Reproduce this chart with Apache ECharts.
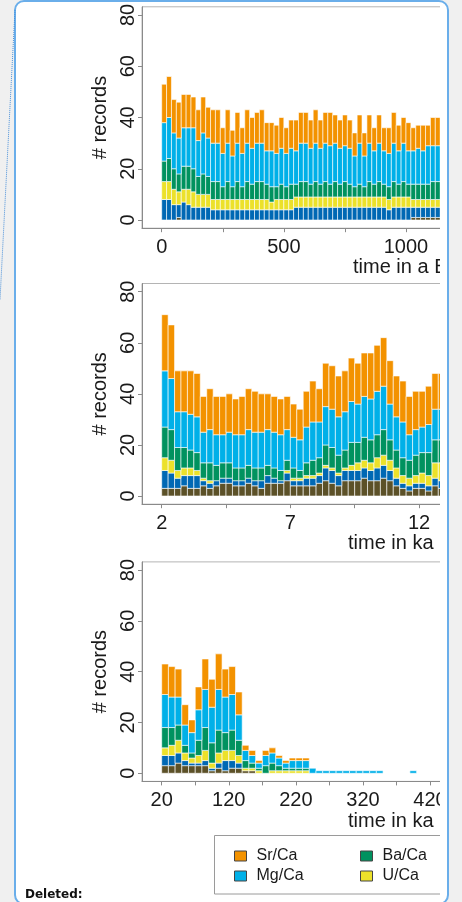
<!DOCTYPE html>
<html><head><meta charset="utf-8">
<script src="https://cdn.jsdelivr.net/npm/echarts@6/dist/echarts.min.js"></script>
<style>
html,body{margin:0;padding:0;background:#f0f0f0;width:462px;height:902px;overflow:hidden}
#box{position:absolute;left:14px;top:0px;width:431px;height:901px;border:2px solid #6aaeea;border-radius:10px;background:#fff}
#clip{position:absolute;left:0;top:0;width:440px;height:902px;overflow:hidden}
#chart{width:520px;height:902px}
</style></head>
<body>
<div id="box"></div>
<div id="clip"><div id="chart"></div></div>
<script>
// ---------- data ----------
const seriesNames = ['B/Ca','Li/Ca','U/Ca','Ba/Ca','Mg/Ca','Sr/Ca']; // stack order, bottom -> top
const seriesColors = ['#5c5128','#0068b4','#ece12a','#00925f','#00b0e8','#f39200'];

// Panel 1: time in a BP, 20-year bins
const p1Bins = [0,20,40,60,80,100,120,140,160,180,200,220,240,260,280,300,320,340,360,380,400,420,440,460,480,500,520,540,560,580,600,620,640,660,680,700,720,740,760,780,800,820,840,860,880,900,920,940,960,980,1000,1020,1040,1060,1080,1100,1120];
const p1BinWidth = 20;
const p1BCa  = [0,0,0,1,0,0,0,0,0,0,0,0,0,0,0,0,0,0,0,0,0,0,0,0,0,0,0,0,0,0,0,0,0,0,0,0,0,0,0,0,0,0,0,0,0,0,0,0,0,0,0,1,1,1,1,1,1];
const p1LiCa = [8,8,6,5,7,6,5,5,5,5,4,4,4,4,4,4,4,4,4,4,4,4,4,4,4,4,4,5,5,5,5,5,5,5,5,5,5,5,5,5,5,5,5,5,5,5,4,5,5,5,5,4,4,4,4,4,4];
const p1UCa  = [7,7,6,5,5,6,6,5,5,5,4,4,4,4,4,4,4,4,4,4,4,4,3,4,4,4,4,4,4,4,4,4,4,4,4,4,4,4,4,4,4,4,4,4,4,4,4,4,4,4,4,3,3,3,3,3,3];
const p1BaCa = [8,9,8,7,9,9,9,7,8,7,7,7,5,7,5,7,5,7,6,7,7,6,6,5,6,5,6,5,6,6,5,6,5,6,5,6,5,6,5,4,5,4,6,5,6,5,5,6,5,6,5,6,6,6,6,7,7];
const p1MgCa = [15,16,14,14,15,15,16,14,16,15,15,15,13,15,12,15,13,15,14,15,15,13,14,13,14,13,14,13,15,15,14,15,14,15,15,15,14,14,14,12,16,12,15,13,15,13,13,15,13,15,13,13,14,13,15,14,14];
const p1SrCa = [15,16,13,14,13,13,12,12,14,12,13,13,10,13,10,12,10,13,12,12,13,11,11,11,12,10,11,12,12,12,11,13,11,12,13,11,11,12,11,9,11,9,11,9,11,9,10,12,10,10,11,9,9,10,8,11,11];

// Panel 2: time in ka, 0.25 ka bins
const p2Bins = [2,2.25,2.5,2.75,3,3.25,3.5,3.75,4,4.25,4.5,4.75,5,5.25,5.5,5.75,6,6.25,6.5,6.75,7,7.25,7.5,7.75,8,8.25,8.5,8.75,9,9.25,9.5,9.75,10,10.25,10.5,10.75,11,11.25,11.5,11.75,12,12.25,12.5,12.75];
const p2BinWidth = 0.25;
const p2BCa  = [3,3,3,4,3,3,4,3,4,5,5,4,4,5,4,3,5,5,5,6,4,4,4,4,5,6,5,4,6,6,6,7,6,6,7,6,4,3,2,3,3,2,4,3];
const p2LiCa = [7,6,4,4,5,5,2,2,2,2,2,2,2,2,2,3,3,2,1,3,2,2,3,3,3,5,5,4,4,4,4,4,4,5,5,4,3,2,2,2,2,2,3,3];
const p2UCa  = [5,5,3,3,3,2,1,1,0,0,0,0,0,0,0,0,0,0,0,1,1,1,1,1,1,1,1,1,1,2,3,3,3,4,4,4,4,3,3,3,4,4,6,7];
const p2BaCa = [12,12,9,8,7,7,6,7,6,6,6,5,5,5,5,5,4,4,4,4,4,3,5,6,6,8,8,7,7,9,8,9,9,9,10,8,7,7,7,8,8,9,9,9];
const p2MgCa = [22,20,14,14,14,14,12,13,12,11,12,13,13,14,14,14,14,14,14,12,12,12,14,15,14,15,15,15,15,16,15,16,16,17,17,14,13,14,10,10,10,11,12,12];
const p2SrCa = [22,21,16,16,17,17,14,16,15,15,15,14,15,16,16,15,14,14,14,13,13,12,14,16,13,17,17,16,16,17,16,17,18,18,19,17,16,16,15,15,14,15,14,14];

// Panel 3: time in ka, 10 ka bins
const p3Bins = [20,30,40,50,60,70,80,90,100,110,120,130,140,150,160,170,180,190,200,210,220,230,240,250,260,270,280,290,300,310,320,330,340,350,360,370,380,390];
const p3BinWidth = 10;
const p3BCa  = [3,3,4,3,3,3,3,1,2,1,2,2,1,1,0,0,0,0,0,0,0,0,0,0,0,0,0,0,0,0,0,0,0,0,0,0,0,0];
const p3LiCa = [4,4,4,2,1,1,2,1,2,4,3,2,0,0,0,0,0,0,0,0,0,0,0,0,0,0,0,0,0,0,0,0,0,0,0,0,0,0];
const p3UCa  = [3,4,5,3,2,3,4,2,4,4,4,3,1,1,1,0,1,1,1,1,1,1,0,0,0,0,0,0,0,0,0,0,0,0,0,0,0,0];
const p3BaCa = [8,7,6,3,2,6,9,8,9,7,8,6,3,2,1,3,3,2,1,1,1,1,0,0,0,0,0,0,0,0,0,0,0,0,0,0,0,0];
const p3MgCa = [13,12,11,8,8,12,15,14,16,14,14,10,4,3,2,4,4,3,2,3,3,3,2,1,1,1,1,1,1,1,1,1,1,0,0,0,0,1];
const p3SrCa = [12,12,11,8,5,9,12,11,14,11,11,9,2,2,1,2,2,1,1,1,1,1,0,0,0,0,0,0,0,0,0,0,0,0,0,0,0,0];

// axis ticks / labels
const yTicks = [0,20,40,60,80];
const p1XTicks = [0,250,500,750,1000,1250];
const p1XLabels = [0,500,1000];
const p2XTicks = [2,4.5,7,9.5,12];
const p2XLabels = [2,7,12];
const p3XTicks = [20,70,120,170,220,270,320,370,420,470];
const p3XLabels = [20,120,220,320,420];
const xTitles = ['time in a BP','time in ka','time in ka'];

// ---------- layout ----------
const FONT = "'Liberation Sans', Arial, Helvetica, sans-serif";
const panels = [
  {bins:p1Bins, w:p1BinWidth, vals:[p1BCa,p1LiCa,p1UCa,p1BaCa,p1MgCa,p1SrCa], xmin:-80.6, xmax:1262, ticks:p1XTicks, labels:p1XLabels, top:6.8, height:221.4, tx:353, ty:268},
  {bins:p2Bins, w:p2BinWidth, vals:[p2BCa,p2LiCa,p2UCa,p2BaCa,p2MgCa,p2SrCa], xmin:1.2344, xmax:13.982, ticks:p2XTicks, labels:p2XLabels, top:283.5, height:220.7, tx:348, ty:544},
  {bins:p3Bins, w:p3BinWidth, vals:[p3BCa,p3LiCa,p3UCa,p3BaCa,p3MgCa,p3SrCa], xmin:-9.37, xmax:479.6, ticks:p3XTicks, labels:p3XLabels, top:561.9, height:219.5, tx:348, ty:822}
];

function renderItem(params, api){
  const a = api.coord([api.value(0), api.value(3)]);
  const b = api.coord([api.value(1), api.value(2)]);
  return {type:'rect', shape:{x:a[0], y:a[1], width:b[0]-a[0], height:b[1]-a[1]},
    style:{fill: api.visual('color'), stroke:'rgba(255,255,255,0.6)', lineWidth:1}};
}

const grid=[], xAxis=[], yAxis=[], series=[], graphic=[];
panels.forEach((p, pi) => {
  grid.push({left:142, top:p.top, width:328, height:p.height, show:true, borderColor:'#b4b4b4', borderWidth:1, backgroundColor:'transparent'});
  xAxis.push({gridIndex:pi, type:'value', min:p.xmin, max:p.xmax,
    axisLine:{show:true, onZero:false, lineStyle:{color:'#8a8a8a', width:1}},
    axisTick:{show:true, customValues:p.ticks, length:4, lineStyle:{color:'#8a8a8a'}},
    axisLabel:{show:true, customValues:p.labels, fontSize:20, color:'#1a1a1a', fontFamily:FONT, margin:9,
      formatter:(v) => String(v)},
    splitLine:{show:false}});
  yAxis.push({gridIndex:pi, type:'value', min:-3.2, max:83.2,
    name:'# records', nameLocation:'middle', nameGap:26, nameRotate:90,
    nameTextStyle:{fontSize:20, color:'#1a1a1a', fontFamily:FONT},
    axisLine:{show:true, onZero:false, lineStyle:{color:'#8a8a8a', width:1}},
    axisTick:{show:true, customValues:yTicks, length:4, lineStyle:{color:'#8a8a8a'}},
    axisLabel:{show:true, customValues:yTicks, rotate:90, fontSize:20, color:'#1a1a1a', fontFamily:FONT, margin:4},
    splitLine:{show:false}});
  const base = p.bins.map(() => 0);
  p.vals.forEach((arr, si) => {
    const data = [];
    arr.forEach((v, i) => {
      if (v > 0) data.push([p.bins[i], p.bins[i] + p.w, base[i], base[i] + v]);
      base[i] += v;
    });
    series.push({type:'custom', name:seriesNames[si], xAxisIndex:pi, yAxisIndex:pi,
      renderItem, clip:true, data, encode:{x:[0,1], y:[2,3]},
      itemStyle:{color:seriesColors[si]}});
  });
  graphic.push({type:'text', left:p.tx, top:p.ty-11, style:{text:xTitles[pi], fontSize:20, fill:'#1a1a1a', fontFamily:FONT}});
});

graphic.push({type:'rect', shape:{x:214.5, y:835.5, width:300, height:58.5}, style:{fill:'none', stroke:'#9a9a9a', lineWidth:1}});
graphic.push({type:'text', left:25, top:889, style:{text:'Deleted:', fontSize:12, fontWeight:'bold', fill:'#111', fontFamily:"'DejaVu Sans', Verdana, sans-serif"}});
graphic.push({type:'line', shape:{x1:15, y1:10, x2:0, y2:300}, style:{stroke:'#4a90d9', lineWidth:1, lineDash:[1,1]}});

const legendBase = {orient:'vertical', icon:'rect', itemWidth:12, itemHeight:10, itemGap:4,
  itemStyle:{borderColor:'#444', borderWidth:1},
  textStyle:{fontSize:16, color:'#1a1a1a', fontFamily:FONT, padding:[0,0,0,5]}};

const chart = echarts.init(document.getElementById('chart'));
chart.setOption({
  animation:false,
  grid, xAxis, yAxis, series, graphic,
  legend:[
    Object.assign({}, legendBase, {data:['Sr/Ca','Mg/Ca'], left:229, top:843}),
    Object.assign({}, legendBase, {data:['Ba/Ca','U/Ca'], left:355, top:843})
  ]
});
</script>
</body></html>
